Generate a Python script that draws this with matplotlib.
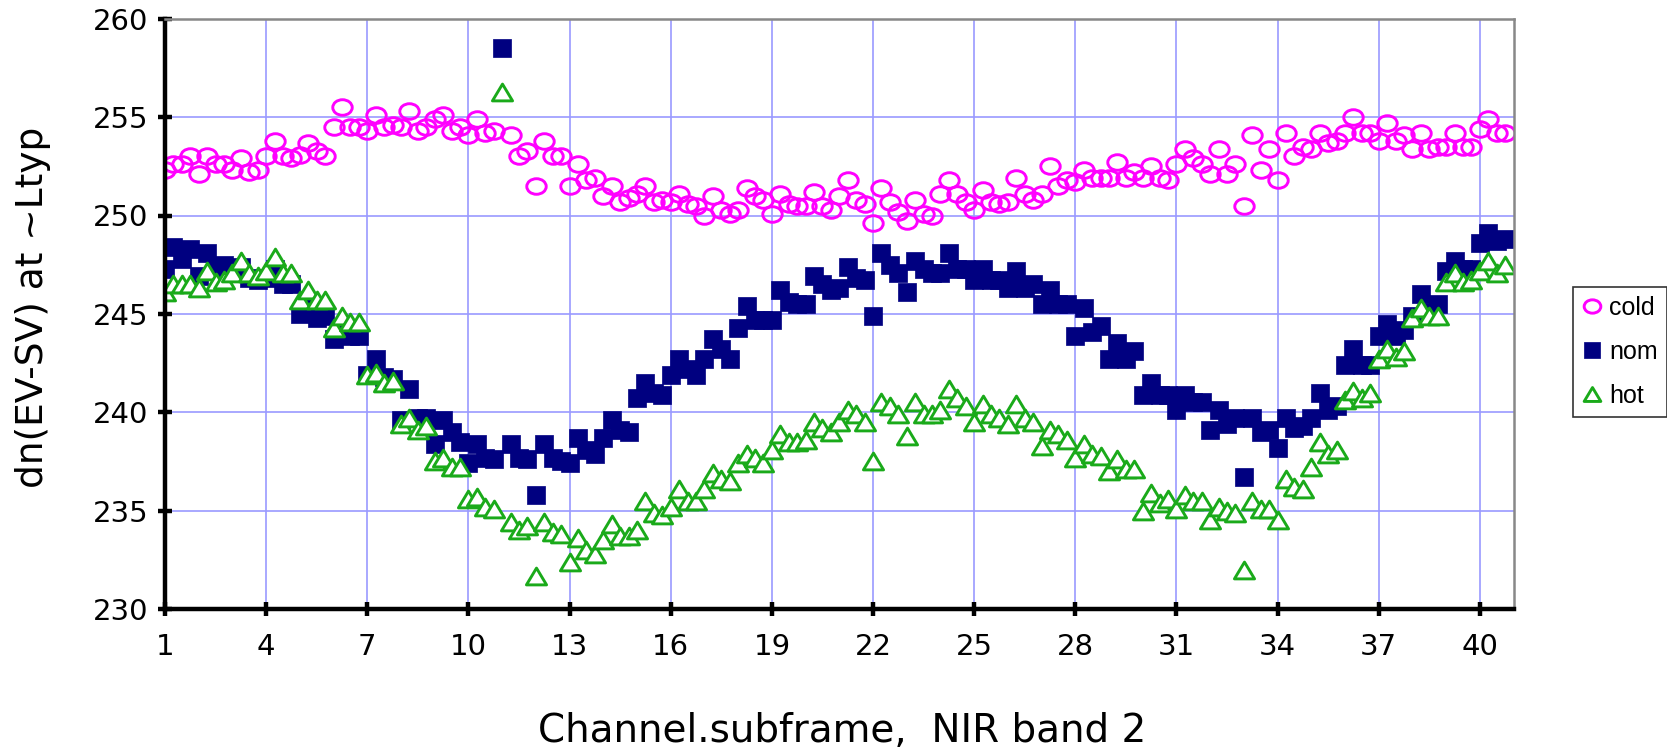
import numpy as np
import matplotlib
matplotlib.use("Agg")
import matplotlib.pyplot as plt
from matplotlib.path import Path

# channel.subframe layout: 40 channels, 4 subframes each
channels = np.arange(1, 41)
subframes = [0.0, 0.25, 0.5, 0.75]

# dn(EV-SV), 4 values per channel
cold = [252.3, 252.6, 252.6, 253.0,  252.1, 253.0, 252.6, 252.6,  252.3, 252.9, 252.2, 252.3,
        253.0, 253.8, 253.0, 252.9,  253.1, 253.7, 253.3, 253.0,  254.5, 255.5, 254.5, 254.5,
        254.3, 255.1, 254.5, 254.6,  254.5, 255.3, 254.3, 254.5,  254.9, 255.1, 254.3, 254.5,
        254.1, 254.9, 254.2, 254.3,  np.nan, 254.1, 253.0, 253.3,  251.5, 253.8, 253.0, 253.0,
        251.5, 252.6, 251.8, 251.9,  251.0, 251.5, 250.7, 250.9,  251.1, 251.5, 250.7, 250.8,
        250.7, 251.1, 250.6, 250.5,  250.0, 251.0, 250.3, 250.1,  250.3, 251.4, 251.0, 250.8,
        250.1, 251.1, 250.6, 250.5,  250.5, 251.2, 250.5, 250.3,  251.0, 251.8, 250.8, 250.6,
        249.6, 251.4, 250.7, 250.2,  249.7, 250.8, 250.1, 250.0,  251.1, 251.8, 251.1, 250.7,
        250.3, 251.3, 250.7, 250.6,  250.7, 251.9, 251.1, 250.8,  251.1, 252.5, 251.5, 251.8,
        251.7, 252.3, 251.9, 251.9,  251.9, 252.7, 251.9, 252.2,  251.9, 252.5, 251.9, 251.8,
        252.6, 253.4, 252.9, 252.6,  252.1, 253.4, 252.1, 252.6,  250.5, 254.1, 252.3, 253.4,
        251.8, 254.2, 253.0, 253.5,  253.4, 254.2, 253.7, 253.8,  254.2, 255.0, 254.2, 254.2,
        253.8, 254.7, 253.8, 254.1,  253.4, 254.2, 253.4, 253.5,  253.5, 254.2, 253.5, 253.5,
        254.4, 254.9, 254.2, 254.2]

nom = [247.3, 248.4, 247.8, 248.3,  246.9, 248.1, 247.3, 247.5,  247.1, 247.4, 246.8, 246.7,
       246.8, 247.3, 246.5, 246.5,  245.0, 245.3, 244.8, 244.9,  243.7, 244.2, 243.9, 243.9,
       241.9, 242.7, 241.8, 241.7,  239.6, 241.2, 239.7, 239.7,  238.4, 239.6, 239.0, 238.5,
       237.4, 238.4, 237.7, 237.6,  258.5, 238.4, 237.7, 237.6,  235.8, 238.4, 237.7, 237.5,
       237.4, 238.7, 238.1, 237.9,  238.7, 239.6, 239.1, 239.0,  240.7, 241.5, 241.0, 240.9,
       241.9, 242.7, 242.2, 241.9,  242.7, 243.7, 243.2, 242.7,  244.3, 245.4, 244.7, 244.7,
       244.7, 246.2, 245.6, 245.5,  245.5, 246.9, 246.5, 246.2,  246.3, 247.4, 246.8, 246.7,
       244.9, 248.1, 247.5, 247.1,  246.1, 247.7, 247.3, 247.1,  247.1, 248.1, 247.3, 247.3,
       246.7, 247.3, 246.7, 246.7,  246.3, 247.2, 246.3, 246.5,  245.5, 246.2, 245.5, 245.5,
       243.9, 245.3, 244.1, 244.4,  242.7, 243.5, 242.7, 243.1,  240.9, 241.5, 240.9, 240.9,
       240.1, 240.9, 240.5, 240.5,  239.1, 240.1, 239.4, 239.7,  236.7, 239.7, 239.0, 239.1,
       238.2, 239.7, 239.2, 239.3,  239.7, 241.0, 240.1, 240.3,  242.4, 243.2, 242.4, 242.4,
       243.9, 244.5, 243.9, 244.2,  244.9, 246.0, 245.1, 245.5,  247.2, 247.7, 247.3, 247.3,
       248.6, 249.1, 248.7, 248.8]

hot = [246.1, 246.5, 246.5, 246.5,  246.3, 247.2, 246.6, 246.7,  247.1, 247.7, 247.1, 246.9,
       247.2, 247.9, 247.1, 247.1,  245.7, 246.2, 245.7, 245.7,  244.3, 244.9, 244.6, 244.6,
       241.9, 242.0, 241.5, 241.6,  239.4, 239.7, 239.1, 239.3,  237.5, 237.7, 237.2, 237.2,
       235.6, 235.7, 235.2, 235.1,  256.3, 234.4, 234.0, 234.2,  231.7, 234.4, 233.9, 233.8,
       232.4, 233.6, 233.0, 232.8,  233.5, 234.3, 233.7, 233.7,  234.0, 235.5, 234.9, 234.8,
       235.2, 236.1, 235.5, 235.5,  236.1, 236.9, 236.6, 236.5,  237.4, 237.9, 237.7, 237.4,
       238.1, 238.9, 238.5, 238.5,  238.6, 239.5, 239.2, 239.0,  239.5, 240.1, 239.9, 239.5,
       237.5, 240.5, 240.3, 239.9,  238.8, 240.5, 239.9, 239.9,  240.1, 241.2, 240.7, 240.3,
       239.5, 240.4, 239.9, 239.7,  239.4, 240.4, 239.7, 239.5,  238.3, 239.1, 238.9, 238.6,
       237.7, 238.4, 237.9, 237.8,  237.0, 237.6, 237.1, 237.1,  235.0, 235.9, 235.4, 235.6,
       235.1, 235.8, 235.5, 235.5,  234.5, 235.2, 235.0, 234.9,  232.0, 235.5, 235.1, 235.1,
       234.5, 236.6, 236.2, 236.1,  237.2, 238.5, 237.9, 238.1,  240.6, 241.1, 240.7, 241.0,
       242.7, 243.2, 242.8, 243.1,  244.8, 245.3, 244.9, 244.9,  246.6, 247.1, 246.6, 246.7,
       247.2, 247.7, 247.1, 247.5]

x_ticks = [1, 4, 7, 10, 13, 16, 19, 22, 25, 28, 31, 34, 37, 40]
y_ticks = [230, 235, 240, 245, 250, 255, 260]

x = (channels[:, None] + np.array(subframes)[None, :]).ravel()

# the original picture is stretched sideways, so the markers are a bit wide
circle = Path.unit_circle()
ellipse = Path(circle.vertices * [1.25, 1.0], circle.codes)
wide_tri = Path([(0, 1), (-1.2, -1), (1.2, -1), (0, 1)], closed=True)
wide_sq = Path([(-1.1, -1), (1.1, -1), (1.1, 1), (-1.1, 1), (-1.1, -1)], closed=True)

fig = plt.figure(figsize=(16.67, 7.5), dpi=100)
ax = fig.add_axes([0.099, 0.188, 0.809, 0.787])

ax.plot(x, cold, linestyle="none", marker=ellipse, ms=14, mfc="none",
        mec="#ff00ff", mew=2.1, label="cold")
ax.plot(x, nom, linestyle="none", marker=wide_sq, ms=13.5, mfc="#000080",
        mec="#000080", mew=0.5, label="nom")
ax.plot(x, hot, linestyle="none", marker=wide_tri, ms=14.5, mfc="white",
        mec="#1aaa1a", mew=2.1, label="hot")

ax.set_xlim(1, 41)
ax.set_ylim(230, 260)
ax.set_xticks(x_ticks)
ax.set_yticks(y_ticks)
ax.grid(True, color="#9a9aff", linewidth=1.2)
ax.set_axisbelow(True)

for side in ["left", "bottom"]:
    ax.spines[side].set_linewidth(3.2)
    ax.spines[side].set_color("black")
for side in ["top", "right"]:
    ax.spines[side].set_linewidth(1.8)
    ax.spines[side].set_color("#888888")

ax.tick_params(axis="both", direction="inout", length=10, width=3.2,
               labelsize=21, color="black")
ax.tick_params(axis="x", pad=12)
ax.tick_params(axis="y", pad=7)

fig.text(0.0195, 0.59, "dn(EV-SV) at ~Ltyp", fontsize=27, rotation=90,
         ha="center", va="center")
fig.text(0.505, 0.025, "Channel.subframe,  NIR band 2", fontsize=28,
         ha="center", va="center")

leg = fig.legend(loc="upper left", bbox_to_anchor=(0.9436, 0.617),
                 frameon=True, fancybox=False, handlelength=0.8,
                 handletextpad=0.3, labelspacing=0.8, borderpad=0.35,
                 borderaxespad=0.0,
                 prop={"family": "Liberation Sans", "size": 18})
leg.get_frame().set_edgecolor("black")
leg.get_frame().set_linewidth(1.2)
for h in leg.legend_handles:
    h.set_markersize(12)

fig.savefig("out.png", dpi=100)
